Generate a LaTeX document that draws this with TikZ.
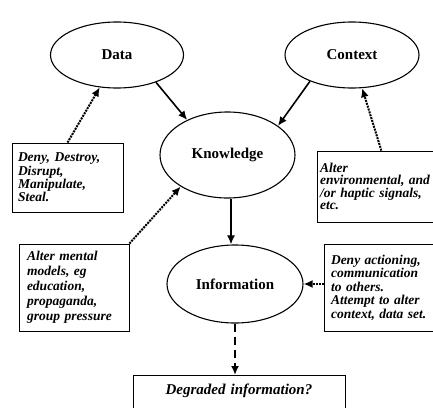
\documentclass[tikz,border=0pt]{standalone}
\usepackage{fontspec}
\setmainfont{Liberation Serif}
\usetikzlibrary{arrows.meta,shapes.geometric}

\begin{document}
\begin{tikzpicture}[x=1pt,y=-1pt,>={Latex[length=9pt,width=8pt]}]
		\tikzstyle{stage}=[ellipse,draw,line width=1.1pt,inner sep=0pt,font=\fontsize{15}{18}\selectfont\bfseries]
		\tikzstyle{threat}=[rectangle,draw,line width=0.8pt,align=left]
		\tikzstyle{flow}=[->,line width=1.6pt]
		\tikzstyle{attack}=[->,line width=2pt,densely dotted]
		\clip (0,0) rectangle (433,407);

		\node[stage,minimum width=133pt,minimum height=66pt] (data) at (117,55) {Data};
		\node[stage,minimum width=134pt,minimum height=66pt] (context) at (352,55) {Context};
		\node[stage,minimum width=135pt,minimum height=86pt] (know) at (227.5,155) {Knowledge};
		\node[stage,minimum width=136pt,minimum height=78pt] (info) at (235,284) {Information};

		\node[threat,text width=99pt,inner xsep=6pt,minimum height=69pt,font={\fontsize{13.5}{12}\selectfont\bfseries\itshape}] (deny) at (67.5,177.5) {Deny, Destroy,\\Disrupt,\\Manipulate,\\Steal.};
		\node[threat,text width=110pt,inner xsep=3pt,minimum height=71pt,font={\fontsize{13.5}{12.5}\selectfont\bfseries\itshape}] (env) at (375,186.5) {Alter\\environmental, and\\/or haptic signals,\\etc.};
		\node[threat,text width=94pt,inner xsep=8pt,minimum height=87pt,font={\fontsize{13.5}{15}\selectfont\bfseries\itshape}] (mental) at (74,287.5) {Alter mental\\models, eg\\education,\\propaganda,\\group pressure};
		\node[threat,text width=102pt,inner xsep=7pt,minimum height=87pt,font={\fontsize{13.5}{13.5}\selectfont\bfseries\itshape}] (action) at (382,287.5) {Deny actioning,\\communication\\to others.\\Attempt to alter\\context, data set.};
		\node[threat,anchor=north,text width=200pt,inner xsep=6pt,inner ysep=9pt,align=center,text depth=30pt,font={\fontsize{15}{18}\selectfont\bfseries\itshape}] (degr) at (239,375) {Degraded information?};

		\draw[flow] (data.-35) -- (know.139);
		\draw[flow] (context.-148) -- (know.30);
		\draw[flow] ([xshift=3.5pt]know.south) -- ([xshift=3.5pt]know.south |- info.north);
		\draw[flow,line width=2.4pt,dash pattern=on 8pt off 5pt] (info.south) -- (info.south |- degr.north);

		\draw[attack] (deny.north) -- (data.-118);
		\draw[attack] (env.80) -- (context.-73);
		\draw[attack] (mental.north east) -- (know.-146);
		\draw[attack] (action.west |- info.east) -- (info.east);
\end{tikzpicture}
\end{document}
